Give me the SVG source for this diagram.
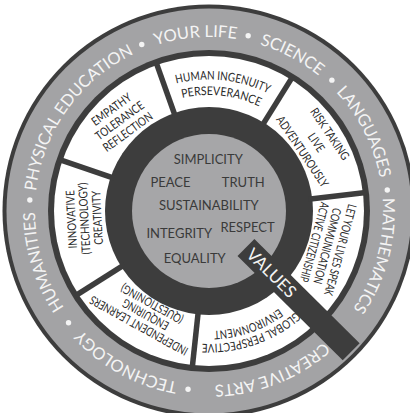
<svg xmlns="http://www.w3.org/2000/svg" xmlns:xlink="http://www.w3.org/1999/xlink" width="410" height="413" viewBox="0 0 410 413">
<style>
.dark{fill:#3d3d3d}
.ring{fill:#a3a3a5}
.ot{font-family:Lato,"Open Sans",sans-serif;font-size:16.5px;fill:#f4f4f4;text-anchor:middle}
.dot{fill:#f4f4f4}
.st{font-family:Lato,"Open Sans",sans-serif;font-size:12px;fill:#2a2a2a;text-anchor:middle}
.ct{font-family:Lato,"Open Sans",sans-serif;font-size:13px;fill:#3a3a3a;text-anchor:middle}
.sep{stroke:#3d3d3d;stroke-width:5.5}
</style>
<defs>
<path id="outer" d="M338.31,327.43 A174,174 0 1 1 79.69,94.57 A174,174 0 1 1 338.31,327.43"/>
<path id="a116" d="M108.54,153 A116,116 0 0 1 309.46,153"/>
<path id="a120" d="M105.08,151 A120,120 0 0 1 312.92,151"/>
<path id="a131" d="M95.12,145.25 A131.5,131.5 0 0 1 322.88,145.25"/>
<path id="a133" d="M93.82,144.5 A133,133 0 0 1 324.18,144.5"/>
</defs>
<rect width="410" height="413" fill="#fff"/>
<g id="subjects-ring">
<circle class="dark" cx="209" cy="211" r="206.5"/>
<circle class="ring" cx="209" cy="211" r="202.5"/>
<circle class="dark" cx="209" cy="211" r="161"/>
<circle fill="#fff" cx="209" cy="211" r="155"/>
<text class="ot"><textPath xlink:href="#outer" href="#outer" startOffset="7.36%">CREATIVE ARTS</textPath></text>
<text class="ot"><textPath xlink:href="#outer" href="#outer" startOffset="21.31%">TECHNOLOGY</textPath></text>
<text class="ot"><textPath xlink:href="#outer" href="#outer" startOffset="33.61%">HUMANITIES</textPath></text>
<text class="ot"><textPath xlink:href="#outer" href="#outer" startOffset="48.19%">PHYSICAL EDUCATION</textPath></text>
<text class="ot"><textPath xlink:href="#outer" href="#outer" startOffset="62.11%">YOUR LIFE</textPath></text>
<text class="ot"><textPath xlink:href="#outer" href="#outer" startOffset="71.11%">SCIENCE</textPath></text>
<text class="ot"><textPath xlink:href="#outer" href="#outer" startOffset="80.83%">LANGUAGES</textPath></text>
<text class="ot"><textPath xlink:href="#outer" href="#outer" startOffset="92.5%">MATHEMATICS</textPath></text>
<circle class="dot" cx="29.84" cy="200.04" r="2.7"/>
<circle class="dot" cx="141.76" cy="44.57" r="2.7"/>
<circle class="dot" cx="248.16" cy="35.82" r="2.7"/>
<circle class="dot" cx="331.88" cy="80.15" r="2.7"/>
<circle class="dot" cx="387.27" cy="190.06" r="2.7"/>
<circle class="dot" cx="188.06" cy="389.27" r="2.7"/>
<circle class="dot" cx="68.52" cy="322.74" r="2.7"/>
</g>
<g id="separators">
<circle class="dark" cx="209" cy="211" r="104"/>
<line class="sep" x1="309" y1="211" x2="367" y2="211" transform="rotate(-161 209 211)"/>
<line class="sep" x1="309" y1="211" x2="367" y2="211" transform="rotate(-109.6 209 211)"/>
<line class="sep" x1="309" y1="211" x2="367" y2="211" transform="rotate(-58.1 209 211)"/>
<line class="sep" x1="309" y1="211" x2="367" y2="211" transform="rotate(-6.7 209 211)"/>
<line class="sep" x1="309" y1="211" x2="367" y2="211" transform="rotate(96.1 209 211)"/>
<line class="sep" x1="309" y1="211" x2="367" y2="211" transform="rotate(147.6 209 211)"/>
</g>
<g id="seg-human" transform="rotate(6.15 209 211)">
<text class="st" font-size="12.5"><textPath xlink:href="#a131" href="#a131" startOffset="50%" textLength="94" lengthAdjust="spacingAndGlyphs">HUMAN INGENUITY</textPath></text>
<text class="st" font-size="12.5"><textPath xlink:href="#a116" href="#a116" startOffset="50%" textLength="79" lengthAdjust="spacingAndGlyphs">PERSEVERANCE</textPath></text>
</g>
<g id="seg-risk">
<text class="st" transform="translate(330 133.9) rotate(56)" y="4.3" textLength="60" lengthAdjust="spacingAndGlyphs">RISK TAKING</text>
<text class="st" transform="translate(316.5 142.5) rotate(56)" y="4.3" textLength="20" lengthAdjust="spacingAndGlyphs">LIVE</text>
<text class="st" transform="translate(302.6 151.4) rotate(56)" y="4.3" textLength="83" lengthAdjust="spacingAndGlyphs">ADVENTUROUSLY</text>
</g>
<g id="seg-speak">
<text class="st" transform="translate(340.4 249.9) rotate(105)" y="4.3" textLength="94" lengthAdjust="spacingAndGlyphs">LET YOUR LIVES SPEAK</text>
<text class="st" transform="translate(327.4 246.1) rotate(105)" y="4.3" textLength="78" lengthAdjust="spacingAndGlyphs">COMMUNICATION</text>
<text class="st" transform="translate(314.5 242.2) rotate(105)" y="4.3" textLength="82" lengthAdjust="spacingAndGlyphs">ACTIVE CITIZENSHIP</text>
</g>
<g id="seg-global" transform="rotate(161 209 211)">
<text class="st"><textPath xlink:href="#a133" href="#a133" startOffset="50%" textLength="102" lengthAdjust="spacingAndGlyphs">GLOBAL PERSPECTIVE</textPath></text>
<text class="st"><textPath xlink:href="#a120" href="#a120" startOffset="50%" textLength="70" lengthAdjust="spacingAndGlyphs">ENVIRONMENT</textPath></text>
</g>
<g id="seg-independent">
<text class="st" transform="translate(138.7 325.7) rotate(209)" y="4.3" textLength="110" lengthAdjust="spacingAndGlyphs">INDEPENDENT LEARNERS</text>
<text class="st" transform="translate(145.5 314.6) rotate(209)" y="4.3" textLength="51" lengthAdjust="spacingAndGlyphs">ENQUIRING</text>
<text class="st" transform="translate(152 303.9) rotate(209)" y="4.3" textLength="69" lengthAdjust="spacingAndGlyphs">(QUESTIONING)</text>
</g>
<g id="seg-innovative">
<text class="st" transform="translate(71.3 219.4) rotate(-93)" y="4.3" textLength="58" lengthAdjust="spacingAndGlyphs">INNOVATIVE</text>
<text class="st" transform="translate(84.2 218.6) rotate(-93)" y="4.3" textLength="72" lengthAdjust="spacingAndGlyphs">(TECHNOLOGY)</text>
<text class="st" transform="translate(97.2 217.8) rotate(-93)" y="4.3" textLength="54" lengthAdjust="spacingAndGlyphs">CREATIVITY</text>
</g>
<g id="seg-empathy">
<text class="st" transform="translate(111.3 109.2) rotate(-36)" y="4.3" textLength="46" lengthAdjust="spacingAndGlyphs">EMPATHY</text>
<text class="st" transform="translate(119.5 120.5) rotate(-36)" y="4.3" textLength="57" lengthAdjust="spacingAndGlyphs">TOLERANCE</text>
<text class="st" transform="translate(127.7 131.8) rotate(-36)" y="4.3" textLength="58" lengthAdjust="spacingAndGlyphs">REFLECTION</text>
</g>
<g id="values-core">
<circle fill="#a6a6a8" cx="209" cy="211" r="77"/>
<text class="ct" x="208.3" y="164.3">SIMPLICITY</text>
<text class="ct" x="170.5" y="187.3">PEACE</text>
<text class="ct" x="243.3" y="187.3">TRUTH</text>
<text class="ct" x="208.8" y="210">SUSTAINABILITY</text>
<text class="ct" x="179.2" y="238">INTEGRITY</text>
<text class="ct" x="247.5" y="231.7">RESPECT</text>
<text class="ct" x="194.7" y="262.7">EQUALITY</text>
</g>
<g id="values-bar" transform="rotate(44.7 209 211)">
<rect class="dark" x="261" y="199" width="148" height="24"/>
<text x="297" y="217" text-anchor="middle" font-family="Lato,sans-serif" font-size="17" fill="#f4f4f4">VALUES</text>
</g>
</svg>
